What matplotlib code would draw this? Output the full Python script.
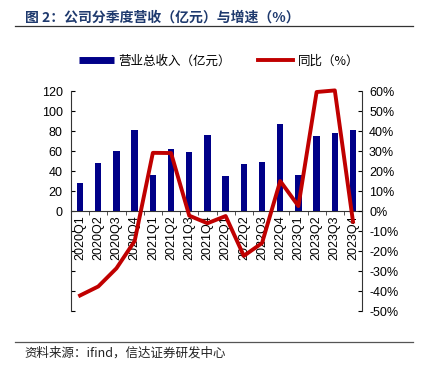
import matplotlib
matplotlib.use("Agg")
import matplotlib.pyplot as plt
from matplotlib.ticker import FuncFormatter, MultipleLocator, FixedLocator
from matplotlib.lines import Line2D

plt.rcParams["font.family"] = ["Liberation Sans", "Noto Sans CJK SC", "DejaVu Sans"]
plt.rcParams["axes.unicode_minus"] = False

quarters = ["2020Q1", "2020Q2", "2020Q3", "2020Q4",
            "2021Q1", "2021Q2", "2021Q3", "2021Q4",
            "2022Q1", "2022Q2", "2022Q3", "2022Q4",
            "2023Q1", "2023Q2", "2023Q3", "2023Q4"]
revenue = [28, 48, 60, 81, 36, 62, 59, 76, 35, 47, 49, 87, 36, 75.5, 78.5, 81]
yoy = [-42.2, -37.7, -28.6, -15.0, 29.1, 29.0, -2.3, -6.1,
       -2.5, -22.4, -16.0, 15.0, 2.5, 59.5, 60.3, -5.3]

NAVY = "#000088"
RED = "#C00000"
TITLE_BLUE = "#1F3A6E"
CJK = ["Noto Sans CJK SC", "DejaVu Sans"]

fig = plt.figure(figsize=(4.25, 3.73), dpi=100)
ax = fig.add_axes([0.167, 0.166, 0.685, 0.590])
ax2 = ax.twinx()

x = list(range(len(quarters)))
ax.bar(x, revenue, width=0.35, color=NAVY, zorder=2)
ax2.plot(x, yoy, color=RED, linewidth=2.8, zorder=3, clip_on=False)

ax.set_xlim(-0.5, len(quarters) - 0.5)
ax.set_ylim(-100, 120)
ax2.set_ylim(-50, 60)

ax.spines["bottom"].set_position(("data", 0))
ax.spines["top"].set_visible(False)
ax2.spines["top"].set_visible(False)
ax2.spines["bottom"].set_visible(False)
for s in ["left", "bottom"]:
    ax.spines[s].set_color("#333333")
ax2.spines["right"].set_color("#333333")
ax2.spines["left"].set_visible(False)
ax.spines["right"].set_visible(False)

ax.yaxis.set_major_locator(MultipleLocator(20))
ax.yaxis.set_major_formatter(FuncFormatter(lambda v, p: f"{v:.0f}" if v >= 0 else ""))
ax.tick_params(axis="y", direction="in", length=3, labelsize=9, pad=6)

ax2.yaxis.set_major_locator(MultipleLocator(10))
ax2.yaxis.set_major_formatter(FuncFormatter(lambda v, p: f"{v:.0f}%"))
ax2.tick_params(axis="y", direction="in", length=3, labelsize=9, pad=5)

ax.set_xticks(x)
ax.set_xticklabels(quarters, rotation=90, fontsize=9)
ax.tick_params(axis="x", length=0, pad=3)
ax.xaxis.set_minor_locator(FixedLocator([i + 0.5 for i in range(len(quarters) - 1)]))
ax.tick_params(axis="x", which="minor", length=3, direction="out", color="#333333")

handles = [Line2D([], [], color=NAVY, linewidth=5, solid_capstyle="butt"),
           Line2D([], [], color=RED, linewidth=2.8)]
fig.legend(handles, ["营业总收入（亿元）", "同比（%）"], loc="center",
           bbox_to_anchor=(0.515, 0.837), ncol=2, frameon=False,
           prop={"family": CJK, "size": 9}, handlelength=2.8,
           columnspacing=2.2, handletextpad=0.35)

fig.text(0.058, 0.953, "图 2：公司分季度营收（亿元）与增速（%）", fontsize=10,
         fontweight="bold", color=TITLE_BLUE, family=CJK, va="center")
fig.add_artist(Line2D([0.035, 0.972], [0.930, 0.930], color="#333333", linewidth=0.9))
fig.add_artist(Line2D([0.035, 0.972], [0.083, 0.083], color="#555555", linewidth=0.9))
fig.text(0.058, 0.054, "资料来源：ifind，信达证券研发中心", fontsize=9,
         style="italic", family=CJK, va="center", color="#222222")

fig.savefig("out.png", dpi=100)
